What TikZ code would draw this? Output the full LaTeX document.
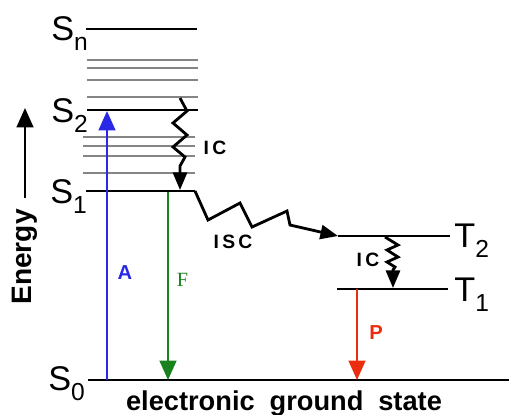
\documentclass[tikz,border=0pt]{standalone}
\usepackage{fontspec}
\setmainfont{Liberation Sans}
\newfontfamily\serifF{Liberation Serif}
\usetikzlibrary{arrows.meta}
\definecolor{ablue}{RGB}{40,40,230}
\definecolor{fgreen}{RGB}{25,130,30}
\definecolor{pred}{RGB}{235,45,15}
\newcommand{\lvl}[2]{#1\raisebox{-5.7pt}{\fontsize{14}{14}\selectfont #2}}
\tikzset{
  level/.style={line width=1.35pt},
  sublevel/.style={line width=1.45pt, black!48},
  lbl/.style={inner sep=0pt, anchor=base west, font=\fontsize{19.5}{20}\selectfont},
  zig/.style={line width=1.6pt, -{Triangle[length=10pt,width=8pt]}},
  trans/.style={line width=1.3pt, -{Triangle[length=11pt,width=9.5pt]}}
}

\begin{document}
\begin{tikzpicture}[x=0.02cm, y=-0.02cm, >=Stealth]
        \useasboundingbox (0,0) rectangle (509,414);
        % singlet and triplet levels
        \draw [level] (86,29) -- (197,29);
        \foreach \y in {60,68,80,97} \draw [sublevel] (87,\y) -- (198,\y);
        \draw [level] (87,110) -- (198,110);
        \foreach \y in {137,146,156,173} \draw [sublevel] (83,\y) -- (195,\y);
        \draw [level] (86,191) -- (195,191);
        \draw [level] (338,236) -- (450,236);
        \draw [level] (337,289) -- (448,289);
        \draw [level] (88,380) -- (509,380);
        % end points
        \coordinate (e0) at (25,198);
        \coordinate (e1) at (25,108);
        \coordinate (s0a) at (107,380);
        \coordinate (s2a) at (107,111);
        \coordinate (s1f) at (168,192);
        \coordinate (s0f) at (168,380);
        \coordinate (t1p) at (357,289);
        \coordinate (s0p) at (357,380);
        \coordinate (ica) at (180,98);
        \coordinate (icb) at (180,190);
        \coordinate (s1r) at (195,191);
        \coordinate (t2l) at (338,236);
        \coordinate (icc) at (385,237);
        \coordinate (icd) at (393,288);
        % labels
        \node [lbl] (sn) at (51,40) {\lvl{S}{n}};
        \node [lbl] (s2) at (51,122) {\lvl{S}{2}};
        \node [lbl] (s1) at (50,203) {\lvl{S}{1}};
        \node [lbl] (s0) at (48,390) {\lvl{S}{0}};
        \node [lbl] (t2) at (454,247) {\lvl{T}{2}};
        \node [lbl] (t1) at (454,301) {\lvl{T}{1}};
        \node [rotate=90, font=\bfseries\fontsize{16}{16}\selectfont] (energy) at (25,257) {Energy};
        \node [anchor=base, font=\bfseries\fontsize{15.5}{16}\selectfont] (ground) at (284,410) {electronic\hspace{8.5pt}ground\hspace{8.5pt}state};
        % transitions
        \draw [trans] (e0) -- (e1);
        \draw [trans, ablue] (s0a) -- (s2a) node [pos=0.4, right=2pt, font=\bfseries\fontsize{11.5}{12}\selectfont] (A) {A};
        \draw [trans, fgreen] (s1f) -- (s0f) node [pos=0.47, right=1pt, font=\serifF\fontsize{11.5}{12}\selectfont] (F) {F};
        \draw [trans, pred] (t1p) -- (s0p) node [pos=0.48, right=3pt, font=\bfseries\fontsize{11.5}{12}\selectfont] (P) {P};
        \draw [zig] (ica) -- ++(7,13) -- ++(-14,12) -- ++(14,12) -- ++(-14,12) -- ++(12,10) -- ++(-5,9) -- (icb);
        \draw [zig] (s1r) -- (208,220) -- (240,203) -- (252,227) -- (287,211) -- (290,225) -- (t2l);
        \draw [zig] (icc) -- ++(13,8) -- ++(-11,5) -- ++(11,7) -- ++(-11,5) -- ++(8,5) -- ++(-2,3) -- (icd);
        \node [font=\bfseries\fontsize{11}{11}\selectfont] (ic1) at (215,148) {I\,C};
        \node [font=\bfseries\fontsize{11}{11}\selectfont] (isc) at (233,242) {I\,S\,C};
        \node [font=\bfseries\fontsize{11}{11}\selectfont] (ic2) at (368,260) {I\,C};
    \end{tikzpicture}
\end{document}
